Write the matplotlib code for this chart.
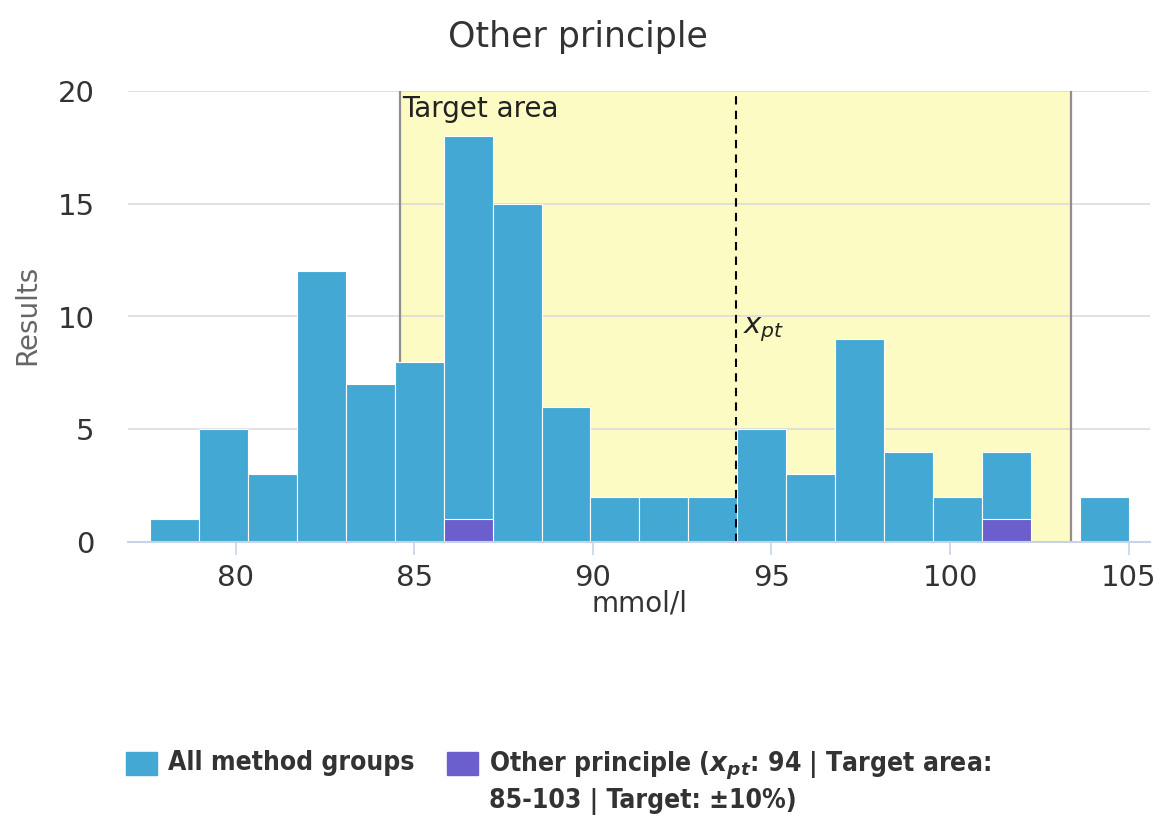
import matplotlib
matplotlib.use("Agg")
import matplotlib.pyplot as plt
from matplotlib.patches import Rectangle
import numpy as np

# Histogram of reported results (mmol/l)
bin_lo, bin_hi = 77.6, 105.0
all_counts = [1, 5, 3, 12, 7, 8, 18, 15, 6, 2, 2, 2, 5, 3, 9, 4, 2, 4, 0, 2]
group_counts = [0, 0, 0, 0, 0, 0, 1, 0, 0, 0, 0, 0, 0, 0, 0, 0, 0, 1, 0, 0]

x_pt = 94
tolerance = 0.10
target_lo, target_hi = x_pt * (1 - tolerance), x_pt * (1 + tolerance)

x_ticks = [80, 85, 90, 95, 100, 105]
y_ticks = [0, 5, 10, 15, 20]

title = "Other principle"
x_label = "mmol/l"
y_label = "Results"
legend_labels = ["All method groups",
                 r"Other principle ($\mathbf{x_{pt}}$: 94 | Target area:" + "\n" + "85-103 | Target: ±10%)"]

BLUE = "#44A8D5"
PURPLE = "#6A5FCD"
YELLOW = "#FBFBC3"
TEXT = "#333333"

plt.rcParams["mathtext.fontset"] = "custom"
plt.rcParams["mathtext.it"] = "DejaVu Sans:italic"
plt.rcParams["mathtext.bf"] = "DejaVu Sans:italic:bold"

W, H = 1155, 815
fig = plt.figure(figsize=(W / 100, H / 100), dpi=100)
ax = fig.add_axes([128 / W, 1 - 542 / H, (1150 - 128) / W, (542 - 91) / H])

n = len(all_counts)
edges = np.linspace(bin_lo, bin_hi, n + 1)
width = edges[1] - edges[0]

# target area band with edge lines
ax.axvspan(target_lo, target_hi, color=YELLOW, zorder=0.1, lw=0)
for xv in (target_lo, target_hi):
    ax.axvline(xv, color="#8f8f8f", lw=1.6, zorder=1)

# grid sits above the band but beneath the bars
ax.set_axisbelow(True)
ax.yaxis.grid(True, color="#d9d9e0", lw=1.1)

ax.bar(edges[:-1], all_counts, width=width, align="edge", color=BLUE,
       edgecolor="#ffffff", linewidth=0.8, zorder=2)
ax.bar(edges[:-1], group_counts, width=width, align="edge", color=PURPLE,
       edgecolor="#ffffff", linewidth=0.8, zorder=2.5)

ax.axvline(x_pt, color="black", lw=1.5, ls=(0, (4, 3)), zorder=3)

ax.text(target_lo + 0.05, 19.2, "Target area", fontsize=20, color="#222222",
        ha="left", va="center", zorder=4)
ax.text(x_pt + 0.2, 9.4, r"$x_{pt}$", fontsize=21, color="#222222",
        ha="left", va="center", zorder=4)

ax.set_xlim(76.98, 105.6)
ax.set_ylim(0, 20)
ax.set_xticks(x_ticks)
ax.set_yticks(y_ticks)
ax.tick_params(axis="x", length=9, width=1.2, color="#c8d4e6", labelsize=21,
               labelcolor=TEXT, pad=7)
ax.tick_params(axis="y", length=0, labelsize=21, labelcolor=TEXT, pad=24)

for s in ("top", "right", "left"):
    ax.spines[s].set_visible(False)
ax.spines["bottom"].set_color("#c8d4e6")
ax.spines["bottom"].set_linewidth(1.5)
ax.spines["bottom"].set_zorder(3)

fig.text(578 / W, 1 - 37 / H, title, fontsize=25, color=TEXT, ha="center", va="center")
fig.text(640 / W, 1 - 603 / H, x_label, fontsize=20, color=TEXT, ha="center", va="center")
fig.text(27 / W, 1 - 315 / H, y_label, fontsize=20, color="#666666", ha="center",
         va="center", rotation=90)

# legend drawn in figure pixels
sym_w, sym_h = 31, 23
for (x0, color, label) in ((126, BLUE, legend_labels[0]), (447, PURPLE, legend_labels[1])):
    fig.patches.append(Rectangle((x0 / W, 1 - (763 + sym_h / 2) / H), sym_w / W, sym_h / H,
                                 transform=fig.transFigure, color=color))
    fig.text((x0 + sym_w + 11) / W, 1 - 750 / H, label, fontsize=19, color=TEXT,
             fontweight="bold", fontstretch="condensed", ha="left", va="top",
             linespacing=1.3)

fig.savefig("out.png", dpi=100)
